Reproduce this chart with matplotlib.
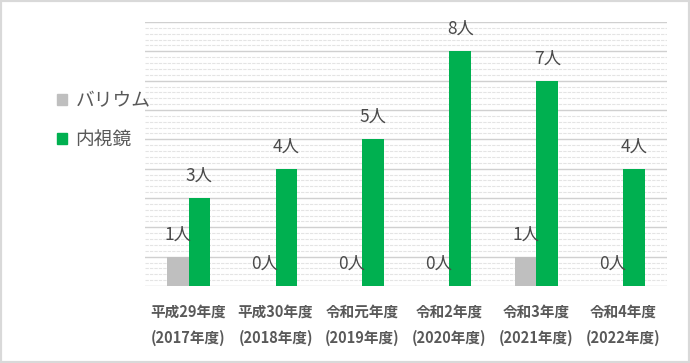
import matplotlib.pyplot as plt
from matplotlib.patches import Patch, Rectangle
from matplotlib.ticker import MultipleLocator
import numpy as np

plt.rcParams['font.family'] = ['Noto Sans CJK JP', 'DejaVu Sans']

categories = ['平成29年度\n(2017年度)', '平成30年度\n(2018年度)', '令和元年度\n(2019年度)',
              '令和2年度\n(2020年度)', '令和3年度\n(2021年度)', '令和4年度\n(2022年度)']
barium = [1, 0, 0, 0, 1, 0]
endoscope = [3, 4, 5, 8, 7, 4]
series_names = ['バリウム', '内視鏡']

gray = '#bfbfbf'
green = '#00b050'
text_col = '#595959'

fig = plt.figure(figsize=(6.9, 3.63), dpi=100)
ax = fig.add_axes([145/690, 77/363, 522/690, 264/363])

x = np.arange(len(categories))
w = 0.25
b1 = ax.bar(x - w/2, barium, w, color=gray, zorder=3)
b2 = ax.bar(x + w/2, endoscope, w, color=green, zorder=3)

for bars in (b1, b2):
    for r in bars:
        ax.annotate('{}人'.format(int(r.get_height())),
                    (r.get_x() + r.get_width()/2, r.get_height()),
                    xytext=(0, 9.5), textcoords='offset points',
                    ha='center', va='bottom', fontsize=12.5, color='#4a4a4a', zorder=4)

ax.set_xlim(-0.5, 5.5)
ax.set_ylim(0, 9)
ax.yaxis.set_major_locator(MultipleLocator(1))
ax.yaxis.set_minor_locator(MultipleLocator(0.2))
ax.grid(axis='y', which='major', color='#d0d0d0', linewidth=1.0, zorder=0)
ax.grid(axis='y', which='minor', color='#e4e4e4', linewidth=0.8, linestyle=(0, (3, 1)), zorder=0)
ax.grid(axis='x', visible=False)
for s in ax.spines.values():
    s.set_visible(False)
ax.set_yticklabels([])
ax.tick_params(axis='y', which='both', length=0)
ax.tick_params(axis='x', length=0, pad=13)
ax.set_xticks(x)
ax.set_xticklabels(categories, fontsize=10.5, fontweight='bold', color=text_col, linespacing=1.75)

handles = [Patch(color=gray), Patch(color=green)]
fig.legend(handles, series_names, loc='center left', bbox_to_anchor=(40/690, 1 - 120/363),
           frameon=False, fontsize=13.5, handlelength=0.55, handleheight=0.55,
           handletextpad=0.45, labelspacing=0.95, labelcolor=text_col)

fig.patches.append(Rectangle((0, 0), 1, 1, transform=fig.transFigure, fill=False,
                             edgecolor='#d9d9d9', linewidth=3))

fig.savefig('out.png', dpi=100)
